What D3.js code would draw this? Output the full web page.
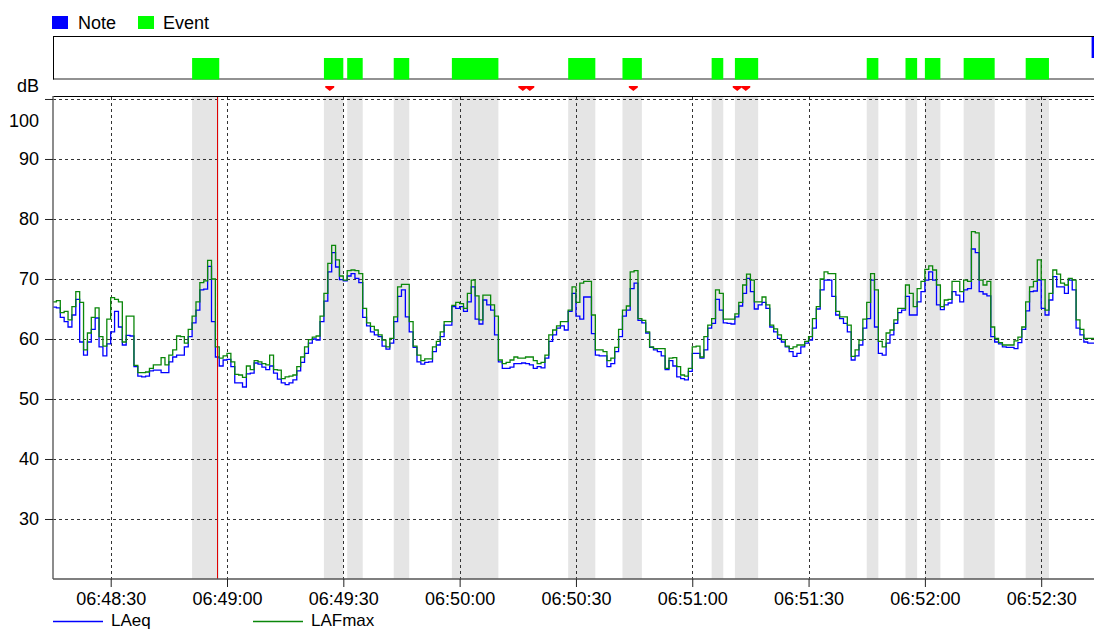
<!DOCTYPE html>
<html><head><meta charset="utf-8">
<script src="https://cdn.jsdelivr.net/npm/d3@7"></script>
<style>
body{margin:0;background:#fff}
svg{display:block}
text{font-family:"Liberation Sans",Arial,sans-serif;fill:#000}
</style>
</head><body>
<svg id="chart" width="1094" height="630"></svg>
<script>
// ---------------- data ----------------
const seriesStart = "06:48:15";      // first 1-second sample
const viewStart = "06:48:15.12";     // left edge of view
const viewEnd = "06:52:43.62";       // right edge of view
const cursorTime = "06:48:57.5";

const laeq = [
65.3,65.2,63.6,62.9,62.0,64.0,66.6,59.5,57.3,59.5,
61.6,63.5,58.7,57.2,59.2,61.2,64.6,62.0,59.0,60.6,
60.5,55.4,53.8,53.7,53.8,54.7,54.8,54.8,54.4,54.4,
56.2,57.0,57.3,57.3,58.7,60.4,62.7,64.8,68.2,68.3,
72.1,62.9,57.0,55.5,56.5,56.6,55.4,52.7,52.7,52.0,
54.2,54.3,56.0,55.8,55.3,54.9,55.5,54.3,53.3,52.7,
52.4,52.7,53.2,54.7,56.1,57.6,59.3,60.0,59.8,62.9,
66.3,71.2,74.4,72.0,69.9,69.7,70.5,70.9,70.1,69.4,
63.6,62.2,61.2,60.7,60.4,58.8,58.3,59.3,62.9,67.1,
68.2,63.7,61.2,58.6,56.2,55.8,56.1,56.2,57.9,59.0,
60.4,62.3,62.3,65.4,65.1,65.4,64.6,66.2,68.7,63.3,
62.5,66.5,65.7,64.8,60.7,56.2,55.1,55.1,55.3,55.9,
55.9,56.0,55.9,55.7,55.1,55.4,55.2,56.8,59.6,60.7,
61.8,62.2,61.5,64.6,67.6,63.8,63.3,67.0,67.0,60.9,
57.3,57.2,57.2,55.4,55.9,57.9,60.4,63.8,64.8,68.4,
69.3,63.1,62.7,61.0,58.6,58.2,57.9,57.2,54.9,56.4,
55.5,53.7,53.4,53.2,54.6,57.6,57.6,56.8,58.2,61.8,
62.6,66.6,64.8,62.7,62.6,62.5,63.7,65.5,67.6,70.1,
67.9,65.0,65.7,66.1,65.1,62.0,61.2,60.1,59.5,58.7,
57.9,57.1,57.6,58.7,59.3,59.8,61.8,65.0,68.2,69.8,
69.8,67.1,64.0,63.4,62.6,61.2,56.5,57.2,59.0,61.8,
63.4,69.8,62.0,57.6,57.3,59.3,60.7,62.6,64.4,64.8,
67.1,64.0,64.0,66.2,67.9,69.8,71.2,69.8,65.7,64.9,
65.7,66.0,67.9,67.3,66.2,68.2,68.4,75.0,74.4,67.9,
67.5,67.2,60.4,59.5,59.2,58.7,58.6,58.6,58.4,59.4,
61.6,64.7,67.9,68.0,69.8,65.1,64.0,66.5,70.4,68.7,
68.7,67.6,69.8,68.2,61.8,60.7,59.5,59.3,59.3];

const lafmax = [
66.2,66.4,64.4,64.6,63.2,65.4,67.9,66.1,58.2,61.0,
63.6,65.2,60.4,58.8,63.3,66.9,66.6,66.2,59.5,63.8,
63.8,55.6,54.4,54.4,54.5,55.1,55.7,55.7,56.9,55.7,
57.3,58.2,60.5,60.4,59.3,61.6,63.8,66.2,69.4,69.7,
73.1,70.0,58.7,56.8,57.2,57.6,56.2,54.1,54.0,53.6,
55.5,54.9,56.4,56.2,55.9,55.7,57.3,54.9,54.8,53.4,
53.7,53.8,54.0,55.4,57.0,58.7,59.9,60.3,60.5,63.8,
67.6,72.6,75.6,73.2,70.5,69.8,71.4,71.5,71.4,70.9,
65.1,62.7,62.1,61.5,60.7,59.8,58.7,60.1,63.7,68.7,
69.1,69.1,62.9,58.8,57.3,56.4,56.7,56.7,58.7,59.6,
61.2,62.9,62.9,65.6,66.1,65.9,65.1,67.6,69.8,67.2,
63.2,67.3,67.3,65.7,63.8,56.5,55.9,56.1,56.5,57.0,
56.8,56.8,57.0,57.0,56.4,55.9,56.1,57.3,60.7,61.5,
62.2,62.9,62.9,64.8,68.7,66.1,69.3,69.6,69.6,64.0,
58.2,58.2,57.9,56.4,56.8,58.6,61.6,64.8,65.5,71.2,
71.4,63.4,63.1,61.2,58.7,58.4,58.4,58.4,55.1,56.8,
56.9,55.4,54.0,53.8,55.1,58.7,58.8,57.0,60.4,62.3,
63.4,68.2,67.6,63.3,63.3,63.3,64.2,66.1,69.0,70.8,
69.8,66.2,66.2,67.0,65.7,62.3,61.7,60.7,59.9,58.8,
58.4,58.7,59.0,59.0,59.6,60.4,63.4,65.4,70.0,71.2,
70.9,70.9,64.6,63.7,63.7,62.3,57.1,58.2,59.8,63.3,
66.1,70.9,68.2,59.6,58.7,61.0,61.5,63.2,65.1,65.1,
69.0,67.6,65.4,68.4,69.6,71.6,72.2,71.5,69.0,65.4,
66.5,66.6,69.6,69.6,67.9,69.8,69.6,77.9,77.7,69.8,
69.0,69.6,62.0,60.1,59.4,59.0,59.0,59.0,59.7,60.3,
62.0,66.2,68.7,69.6,73.2,69.9,64.8,67.6,71.5,70.8,
69.3,69.0,70.1,69.8,63.2,61.6,60.1,60.1,60.1];

const eventStarts = ["06:48:51","06:49:25","06:49:31","06:49:43","06:49:58","06:50:28","06:50:42",
                     "06:51:05","06:51:11","06:51:45","06:51:55","06:52:00","06:52:10","06:52:26"];
const eventEnds   = ["06:48:58","06:49:30","06:49:35","06:49:47","06:50:10","06:50:35","06:50:47",
                     "06:51:08","06:51:17","06:51:48","06:51:58","06:52:04","06:52:18","06:52:32"];
const noteStarts = ["06:52:43"];
const noteEnds   = ["06:52:50"];
const markerTimes = ["06:49:26.5","06:50:16.3","06:50:18.1","06:50:44.8","06:51:11.6","06:51:13.8"];

const yTicks = [30,40,50,60,70,80,90,100];
const xTickLabels = ["06:48:30","06:49:00","06:49:30","06:50:00","06:50:30","06:51:00","06:51:30","06:52:00","06:52:30"];
const seriesNames = ["LAeq","LAFmax"];
const seriesColors = ["#0000ff","#0a870a"];

// ---------------- helpers ----------------
function parseT(s){
  const [h,m,sec] = s.split(":");
  const sv = parseFloat(sec);
  const whole = Math.floor(sv);
  const ms = Math.round((sv-whole)*1000);
  return new Date(Date.UTC(2000,0,1,+h,+m,whole,ms));
}

const W = 1094, H = 630;
const PL = 53, PR = 1094, PT = 97, PB = 579;

const svg = d3.select("#chart");

const x = d3.scaleUtc().domain([parseT(viewStart), parseT(viewEnd)]).range([PL, PR]);
const y = d3.scaleLinear().domain([20, 100.33]).range([PB, PT]);

const t0 = parseT(seriesStart);
function toPts(arr){
  const pts = arr.map((v,i)=>({t:d3.utcSecond.offset(t0,i), v}));
  pts.push({t:d3.utcSecond.offset(t0,arr.length), v:arr[arr.length-1]});
  return pts;
}

svg.append("defs").append("clipPath").attr("id","plotclip")
  .append("rect").attr("x",PL).attr("y",PT).attr("width",PR-PL).attr("height",PB-PT);

// ---------------- top legend ----------------
svg.append("rect").attr("x",52).attr("y",16).attr("width",16).attr("height",13).attr("fill","#0000ff");
svg.append("text").attr("x",78).attr("y",29).attr("font-size",18).text("Note");
svg.append("rect").attr("x",138).attr("y",16).attr("width",16).attr("height",13).attr("fill","#00ff00");
svg.append("text").attr("x",163).attr("y",29).attr("font-size",18).text("Event");

// ---------------- event strip ----------------
const strip = svg.append("g");
strip.append("line").attr("x1",PL).attr("x2",PR).attr("y1",79).attr("y2",79).attr("stroke","#6e6e6e").attr("stroke-width",1.5);
eventStarts.forEach((s,i)=>{
  strip.append("rect").attr("x",x(parseT(s))).attr("y",58)
    .attr("width",x(parseT(eventEnds[i]))-x(parseT(s))).attr("height",21.5).attr("fill","#00ff00");
});
noteStarts.forEach((s,i)=>{
  strip.append("rect").attr("x",x(parseT(s))).attr("y",37)
    .attr("width",Math.max(0,x(parseT(noteEnds[i]))-x(parseT(s)))).attr("height",21).attr("fill","#0000ff");
});
strip.append("line").attr("x1",PL).attr("x2",PR).attr("y1",36.5).attr("y2",36.5).attr("stroke","#000");
strip.append("line").attr("x1",PL+0.5).attr("x2",PL+0.5).attr("y1",36).attr("y2",79.5).attr("stroke","#000");

// markers
markerTimes.forEach(m=>{
  const cx = x(parseT(m));
  svg.append("path").attr("d",`M${cx-4.5},86 L${cx+4.5},86 L${cx+4.5},87.5 L${cx},91 L${cx-4.5},87.5 Z`).attr("fill","#ff0000");
});

// dB label
svg.append("text").attr("x",39).attr("y",92).attr("text-anchor","end").attr("font-size",18).text("dB");

// ---------------- plot ----------------
const plot = svg.append("g");
// event bands
eventStarts.forEach((s,i)=>{
  plot.append("rect").attr("x",x(parseT(s))).attr("y",PT)
    .attr("width",x(parseT(eventEnds[i]))-x(parseT(s))).attr("height",PB-PT).attr("fill","#e5e5e5");
});

// grid
const xTicks = xTickLabels.map(parseT);
plot.selectAll(".hg").data(yTicks).enter().append("line")
  .attr("x1",PL).attr("x2",PR).attr("y1",d=>Math.round(y(d))+0.5).attr("y2",d=>Math.round(y(d))+0.5)
  .attr("stroke","#333").attr("stroke-dasharray","3,3");
plot.selectAll(".vg").data(xTicks).enter().append("line")
  .attr("x1",d=>Math.round(x(d))+0.5).attr("x2",d=>Math.round(x(d))+0.5).attr("y1",PT).attr("y2",PB)
  .attr("stroke","#333").attr("stroke-dasharray","3,3");

// lines
const line = d3.line().x(d=>x(d.t)).y(d=>y(d.v)).curve(d3.curveStepAfter);
const lg = plot.append("g").attr("clip-path","url(#plotclip)");
[laeq, lafmax].forEach((arr,k)=>{
  lg.append("path").attr("d",line(toPts(arr))).attr("fill","none")
    .attr("stroke",seriesColors[k]).attr("stroke-width",1.3);
});

// cursor
plot.append("line").attr("x1",Math.round(x(parseT(cursorTime)))+0.5).attr("x2",Math.round(x(parseT(cursorTime)))+0.5)
  .attr("y1",PT).attr("y2",PB).attr("stroke","#e00000").attr("stroke-width",1);

// frame
plot.append("line").attr("x1",PL).attr("x2",PR).attr("y1",PT-0.5).attr("y2",PT-0.5).attr("stroke","#000");

// axes
const yAxis = d3.axisLeft(y).tickValues(yTicks).tickSize(8).tickPadding(6).tickFormat(d3.format("d"));
const ya = svg.append("g").attr("transform",`translate(${PL},0)`).call(yAxis);
ya.select(".domain").attr("stroke","#666").attr("stroke-width",1.5).attr("d",`M0,${PT-1}V${PB}`);
ya.selectAll(".tick line").attr("stroke","#222");
ya.selectAll(".tick text").attr("font-size",18).attr("font-family","Liberation Sans, Arial, sans-serif").attr("fill","#000");
ya.selectAll(".tick").filter(d=>d===100).select("text").attr("dy","1.55em");

const xAxis = d3.axisBottom(x).tickValues(xTicks).tickSize(8).tickPadding(5).tickFormat(d3.utcFormat("%H:%M:%S"));
const xa = svg.append("g").attr("transform",`translate(0,${PB})`).call(xAxis);
xa.select(".domain").attr("stroke","#555").attr("stroke-width",1.5).attr("d",`M${PL},0H${PR}`);
xa.selectAll(".tick line").attr("stroke","#222");
xa.selectAll(".tick text").attr("font-size",18).attr("font-family","Liberation Sans, Arial, sans-serif").attr("fill","#000");

// bottom legend
const legX = [53, 253];
seriesNames.forEach((n,k)=>{
  svg.append("line").attr("x1",legX[k]).attr("x2",legX[k]+50).attr("y1",621.5).attr("y2",621.5)
    .attr("stroke",seriesColors[k]).attr("stroke-width",1.3);
  svg.append("text").attr("x",legX[k]+58).attr("y",625.5).attr("font-size",17).text(n);
});
</script>
</body></html>
